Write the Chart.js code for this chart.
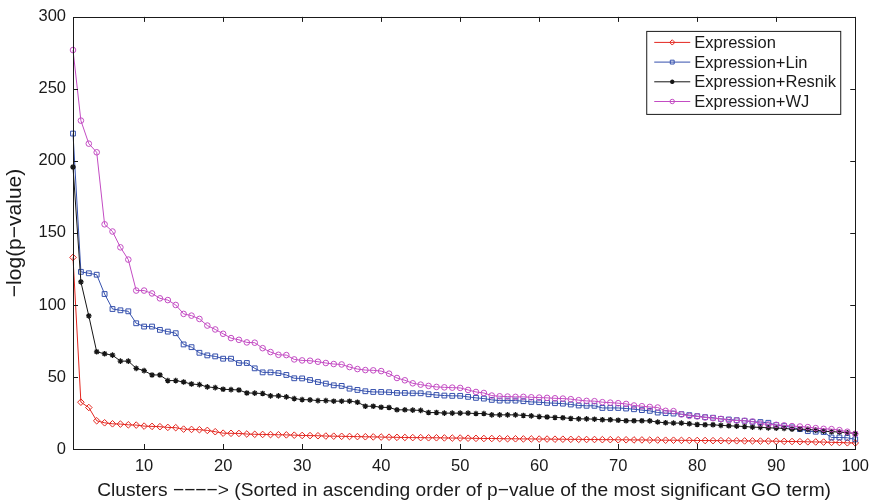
<!DOCTYPE html>
<html>
<head>
<meta charset="utf-8">
<title>Cluster significance</title>
<script src="https://cdn.jsdelivr.net/npm/chart.js@4.4.1/dist/chart.umd.min.js"></script>
<style>
  html, body { margin: 0; padding: 0; background: #fff; }
  canvas { display: block; }
</style>
</head>
<body>
<canvas id="chart" width="877" height="502"></canvas>
<script>
// cluster index along x (1..100)
const clusters = Array.from({ length: 100 }, (_, i) => i + 1);

const xTicks = [10, 20, 30, 40, 50, 60, 70, 80, 90, 100];
const yTicks = [0, 50, 100, 150, 200, 250, 300];

const seriesNames = ['Expression', 'Expression+Lin', 'Expression+Resnik', 'Expression+WJ'];

// -log(p-value) of the best GO term per cluster
const expression = [
  133, 32.5, 28.8, 19.6, 18.2, 17.5, 17.3, 16.8, 16.6, 15.9,
  15.7, 15.5, 15.0, 14.8, 13.8, 13.6, 13.4, 12.9, 12.0, 11.0,
  10.9, 10.8, 10.4, 10.2, 10.1, 10.0, 9.9, 9.8, 9.6, 9.4,
  9.3, 9.2, 9.0, 8.9, 8.8, 8.7, 8.6, 8.5, 8.4, 8.3,
  8.2, 8.1, 8.0, 7.9, 7.9, 7.8, 7.8, 7.7, 7.6, 7.6,
  7.5, 7.4, 7.3, 7.3, 7.2, 7.1, 7.1, 7.0, 7.0, 6.9,
  6.9, 6.8, 6.8, 6.7, 6.7, 6.6, 6.6, 6.5, 6.5, 6.4,
  6.4, 6.3, 6.3, 6.2, 6.2, 6.1, 6.1, 6.0, 6.0, 5.9,
  5.9, 5.8, 5.8, 5.7, 5.7, 5.6, 5.6, 5.5, 5.5, 5.4,
  5.3, 5.2, 5.1, 5.0, 4.9, 4.8, 4.6, 4.5, 4.3, 4.2
];
const lin = [
  219, 123, 122, 121, 107.6, 97.2, 96.3, 95.6, 87.3, 85.0,
  85.0, 82.7, 81.5, 80.4, 72.6, 70.7, 66.8, 65.0, 64.3, 62.7,
  62.7, 59.7, 59.7, 56.0, 53.2, 53.2, 52.7, 51.4, 49.1, 49.0,
  47.9, 46.5, 45.4, 44.2, 43.8, 41.9, 41.0, 40.1, 39.6, 39.6,
  39.4, 38.9, 38.9, 38.7, 38.7, 38.0, 37.5, 37.1, 36.9, 36.9,
  36.2, 35.5, 35.0, 34.1, 33.6, 33.6, 33.6, 33.2, 32.7, 32.5,
  32.0, 31.8, 31.5, 30.9, 30.2, 30.0, 30.0, 28.5, 28.5, 28.5,
  28.1, 27.6, 27.0, 26.5, 25.3, 24.9, 24.6, 24.2, 23.5, 22.8,
  22.1, 21.7, 20.9, 20.5, 20.0, 19.6, 18.9, 18.7, 18.2, 16.6,
  15.9, 15.0, 13.8, 12.4, 12.0, 11.8, 8.0, 8.0, 7.8, 6.7
];
const resnik = [
  195.8, 116, 92.4, 67.5, 66.1, 65.2, 61.0, 61.0, 56.0, 54.4,
  51.4, 51.4, 47.5, 47.5, 46.5, 45.1, 44.7, 43.1, 42.6, 41.5,
  41.2, 41.0, 38.9, 38.8, 38.5, 36.9, 36.9, 36.2, 35.0, 34.3,
  34.1, 33.6, 33.6, 33.2, 33.2, 33.2, 32.5, 29.7, 29.7, 29.0,
  28.8, 27.2, 27.2, 27.0, 26.8, 25.3, 25.3, 24.9, 24.9, 24.9,
  24.9, 24.6, 24.6, 23.7, 23.7, 23.7, 23.7, 23.3, 23.0, 22.5,
  22.2, 21.9, 21.7, 21.2, 20.9, 20.9, 20.7, 20.3, 20.3, 20.0,
  19.6, 19.6, 19.6, 19.5, 18.7, 18.2, 18.0, 18.0, 17.5, 17.0,
  16.8, 16.8, 16.4, 16.1, 15.9, 15.6, 15.2, 15.0, 14.7, 14.5,
  14.3, 13.8, 13.8, 13.6, 13.1, 12.4, 12.0, 11.8, 11.3, 10.8
];
const wj = [
  277, 228, 212, 206, 156, 151, 140, 131.5, 110, 110,
  108, 104.6, 103.4, 100, 93.8, 92.6, 90.3, 85.7, 83.0, 80.0,
  77.0, 75.8, 74.0, 73.8, 70.0, 67.3, 65.4, 65.2, 62.2, 61.5,
  61.3, 60.6, 59.7, 59.0, 58.7, 56.9, 55.5, 54.8, 54.6, 54.1,
  52.3, 49.3, 47.7, 45.6, 44.7, 43.8, 43.1, 42.8, 42.6, 42.4,
  41.0, 39.6, 38.9, 37.1, 36.6, 36.4, 36.2, 36.2, 35.9, 35.7,
  35.5, 35.2, 35.0, 34.6, 33.9, 33.4, 33.2, 32.5, 32.2, 31.8,
  31.3, 30.2, 29.7, 29.2, 28.8, 26.5, 26.3, 24.0, 23.0, 22.6,
  21.9, 21.4, 20.9, 20.0, 19.8, 19.6, 19.1, 17.7, 17.0, 16.8,
  16.4, 15.9, 15.6, 15.2, 14.5, 14.0, 13.8, 13.1, 12.0, 10.5
];

const FONT = "'Liberation Sans', Arial, Helvetica, sans-serif";
const INK = '#1a1a1a';

const styles = [
  { color: '#e3261f', marker: 'rectRot', radius: 3.3, width: 1 },
  { color: '#3550ad', marker: 'rect', radius: 3.4, width: 1 },
  { color: '#151515', marker: 'star', radius: 2.8, width: 1.3 },
  { color: '#c34cc3', marker: 'circle', radius: 2.8, width: 1 }
];

function toPoints(values) {
  return values.map((v, i) => ({ x: clusters[i], y: v }));
}

const seriesValues = [expression, lin, resnik, wj];
const datasets = seriesValues.map((vals, k) => ({
  label: seriesNames[k],
  data: toPoints(vals),
  borderColor: styles[k].color,
  borderWidth: 1,
  pointStyle: styles[k].marker,
  pointRadius: styles[k].radius,
  pointBorderWidth: styles[k].width,
  pointBorderColor: styles[k].color,
  pointBackgroundColor: 'rgba(0,0,0,0)',
  tension: 0,
  clip: false,
  order: 4 - k   // later series drawn on top
}));

// axes box with inward tick marks on all four sides, plus the boxed legend
const framePlugin = {
  id: 'frame',
  afterDatasetsDraw(chart) {
    const { ctx, chartArea: a, scales } = chart;
    const tl = 5;
    ctx.save();
    ctx.strokeStyle = INK;
    ctx.lineWidth = 1;
    ctx.beginPath();
    scales.x.ticks.forEach(t => {
      const px = Math.round(scales.x.getPixelForValue(t.value)) + 0.5;
      ctx.moveTo(px, a.bottom); ctx.lineTo(px, a.bottom - tl);
      ctx.moveTo(px, a.top); ctx.lineTo(px, a.top + tl);
    });
    scales.y.ticks.forEach(t => {
      const py = Math.round(scales.y.getPixelForValue(t.value)) + 0.5;
      ctx.moveTo(a.left, py); ctx.lineTo(a.left + tl, py);
      ctx.moveTo(a.right, py); ctx.lineTo(a.right - tl, py);
    });
    ctx.stroke();
    ctx.strokeRect(Math.round(a.left) + 0.5, Math.round(a.top) + 0.5,
      Math.round(a.right - a.left), Math.round(a.bottom - a.top));

    // legend
    const lx = a.right - 209, ly = a.top + 14, lw = 194, lh = 83, row = 19.7;
    ctx.fillStyle = '#fff';
    ctx.fillRect(lx, ly, lw, lh);
    ctx.strokeRect(lx + 0.5, ly + 0.5, lw, lh);
    ctx.font = '16.5px ' + FONT;
    ctx.textBaseline = 'middle';
    seriesNames.forEach((name, k) => {
      const y = ly + 11.5 + k * row;
      const s = styles[k];
      ctx.strokeStyle = s.color;
      ctx.lineWidth = 1;
      ctx.beginPath();
      ctx.moveTo(lx + 8, y); ctx.lineTo(lx + 44, y);
      ctx.stroke();
      ctx.lineWidth = s.width;
      ctx.fillStyle = 'rgba(0,0,0,0)';
      Chart.helpers.drawPoint(ctx, { pointStyle: s.marker, radius: s.radius * 0.8, borderWidth: s.width }, lx + 26, y);
      ctx.fillStyle = INK;
      ctx.fillText(name, lx + 48, y + 1);
    });
    ctx.restore();
  }
};

new Chart(document.getElementById('chart'), {
  type: 'line',
  data: { datasets },
  options: {
    responsive: false,
    animation: false,
    layout: { padding: { left: 0, right: 19, top: 15, bottom: 0 } },
    plugins: { legend: { display: false }, tooltip: { enabled: false } },
    scales: {
      x: {
        type: 'linear',
        min: 1,
        max: 100,
        afterBuildTicks: scale => { scale.ticks = xTicks.map(v => ({ value: v })); },
        afterFit: scale => { scale.height = 53; },
        grid: { display: false, drawTicks: false },
        border: { display: false },
        ticks: { color: INK, font: { family: FONT, size: 16.5 }, padding: 8, maxRotation: 0 },
        title: {
          display: true,
          text: 'Clusters \u2212\u2212\u2212\u2212> (Sorted in ascending order of p\u2212value of the most significant GO term)',
          color: INK,
          font: { family: FONT, size: 19.2 },
          padding: { top: 0, bottom: 0 }
        }
      },
      y: {
        min: 0,
        max: 300,
        afterBuildTicks: scale => { scale.ticks = yTicks.map(v => ({ value: v })); },
        afterFit: scale => { scale.width = 73; },
        grid: { display: false, drawTicks: false },
        border: { display: false },
        ticks: { color: INK, font: { family: FONT, size: 16.5 }, padding: 7 },
        title: {
          display: true,
          text: '\u2212log(p\u2212value)',
          color: INK,
          font: { family: FONT, size: 21 },
          padding: { top: 3, bottom: 0 }
        }
      }
    }
  },
  plugins: [framePlugin]
});
</script>
</body>
</html>
